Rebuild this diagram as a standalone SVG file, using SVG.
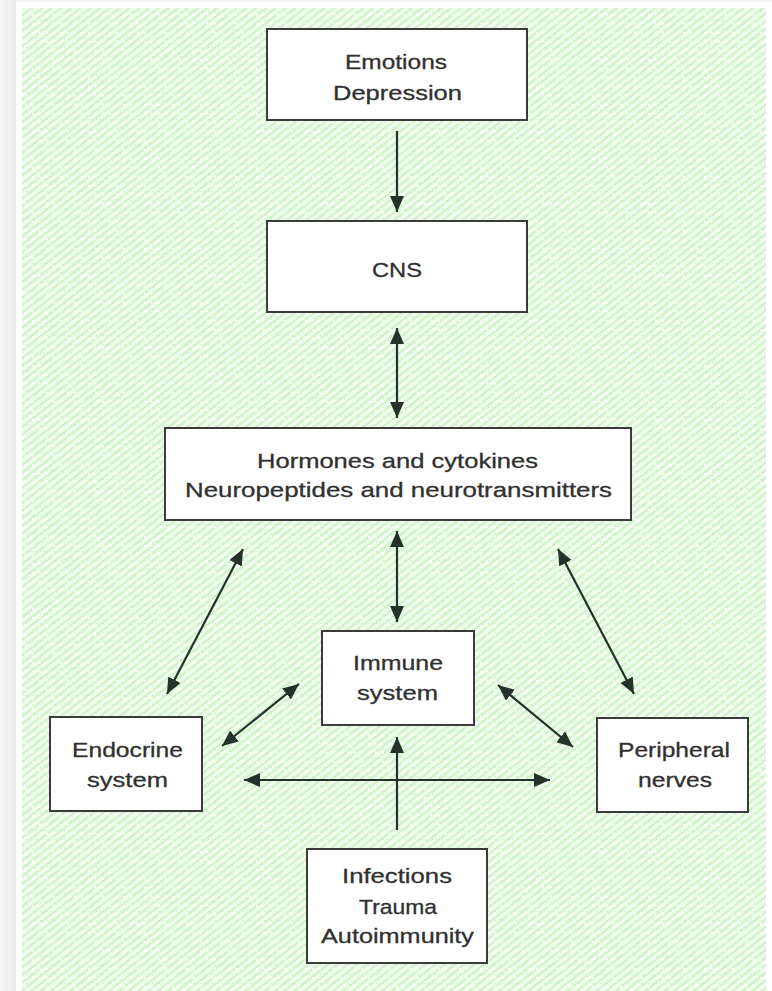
<svg xmlns="http://www.w3.org/2000/svg" width="772" height="991" viewBox="0 0 772 991">
  <defs>
    <linearGradient id="shadow" x1="0" y1="0" x2="1" y2="0">
      <stop offset="0" stop-color="#f6f6f7"/>
      <stop offset="1" stop-color="#e9e9eb"/>
    </linearGradient>
    <pattern id="hatch" width="6" height="6" patternUnits="userSpaceOnUse" patternTransform="rotate(-38)">
      <rect width="6" height="6" fill="#f4fcf1"/>
      <line x1="0" y1="2" x2="6" y2="2" stroke="#cdf3c4" stroke-width="2.4"/>
    </pattern>
    <pattern id="speck" width="7" height="9" patternUnits="userSpaceOnUse">
      <rect x="1" y="1" width="1.5" height="1.5" fill="#d4f4ee"/>
      <rect x="4" y="5" width="1.5" height="1.5" fill="#ffffff"/>
      <rect x="5" y="2" width="1" height="1" fill="#c2efb8"/>
    </pattern>
    <marker id="ah" viewBox="0 0 16 14" markerWidth="16" markerHeight="14" refX="16" refY="7" orient="auto-start-reverse" markerUnits="userSpaceOnUse">
      <path d="M0,0 L16,7 L0,14 z" fill="#25322a"/>
    </marker>
  </defs>
  <style>
    .box { fill: #ffffff; stroke: #3b3b3b; stroke-width: 2; }
    .lbl { font-family: "Liberation Sans", Arial, sans-serif; font-size: 21px; fill: #303030; stroke: #303030; stroke-width: 0.3; text-anchor: middle; }
    .one { stroke: #25322a; stroke-width: 2.2; fill: none; marker-end: url(#ah); }
    .two { stroke: #25322a; stroke-width: 2.2; fill: none; marker-start: url(#ah); marker-end: url(#ah); }
  </style>

  <rect x="0" y="0" width="772" height="991" fill="#f3f3f4"/>
  <rect x="0" y="0" width="16" height="991" fill="url(#shadow)"/>
  <rect x="16" y="2" width="756" height="989" fill="#ffffff"/>
  <rect x="22" y="8" width="744" height="983" fill="url(#hatch)"/>
  <rect x="22" y="8" width="744" height="983" fill="url(#speck)"/>

  <g id="connectors">
    <line class="one" x1="397" y1="131" x2="397" y2="212"/>
    <line class="two" x1="397" y1="328" x2="397" y2="418"/>
    <line class="two" x1="397" y1="531" x2="397" y2="622"/>
    <line class="two" x1="243" y1="549" x2="167" y2="694"/>
    <line class="two" x1="558" y1="549" x2="634" y2="694"/>
    <line class="two" x1="299" y1="684" x2="222" y2="746"/>
    <line class="two" x1="498" y1="685" x2="573" y2="747"/>
    <line class="two" x1="244" y1="780" x2="550" y2="780"/>
    <line class="one" x1="397" y1="830" x2="397" y2="737"/>
  </g>

  <g id="emotions">
    <rect class="box" x="267" y="29" width="260" height="91"/>
    <text class="lbl" x="396" y="69" textLength="102" lengthAdjust="spacingAndGlyphs">Emotions</text>
    <text class="lbl" x="397.5" y="100" textLength="129" lengthAdjust="spacingAndGlyphs">Depression</text>
  </g>
  <g id="cns">
    <rect class="box" x="267" y="221" width="260" height="91"/>
    <text class="lbl" x="397" y="277" textLength="50" lengthAdjust="spacingAndGlyphs">CNS</text>
  </g>
  <g id="hormones">
    <rect class="box" x="165" y="428" width="466" height="92"/>
    <text class="lbl" x="397.5" y="468" textLength="281" lengthAdjust="spacingAndGlyphs">Hormones and cytokines</text>
    <text class="lbl" x="398.5" y="497" textLength="427" lengthAdjust="spacingAndGlyphs">Neuropeptides and neurotransmitters</text>
  </g>
  <g id="immune">
    <rect class="box" x="322" y="631" width="152" height="94"/>
    <text class="lbl" x="398" y="670" textLength="90" lengthAdjust="spacingAndGlyphs">Immune</text>
    <text class="lbl" x="397.5" y="700" textLength="81" lengthAdjust="spacingAndGlyphs">system</text>
  </g>
  <g id="endocrine">
    <rect class="box" x="50" y="717" width="152" height="94"/>
    <text class="lbl" x="127.5" y="757" textLength="111" lengthAdjust="spacingAndGlyphs">Endocrine</text>
    <text class="lbl" x="127.5" y="787" textLength="81" lengthAdjust="spacingAndGlyphs">system</text>
  </g>
  <g id="peripheral">
    <rect class="box" x="597" y="718" width="151" height="94"/>
    <text class="lbl" x="674" y="757" textLength="112" lengthAdjust="spacingAndGlyphs">Peripheral</text>
    <text class="lbl" x="675" y="787" textLength="74" lengthAdjust="spacingAndGlyphs">nerves</text>
  </g>
  <g id="infections">
    <rect class="box" x="307" y="849" width="180" height="114"/>
    <text class="lbl" x="397" y="883" textLength="110" lengthAdjust="spacingAndGlyphs">Infections</text>
    <text class="lbl" x="398" y="914" textLength="78" lengthAdjust="spacingAndGlyphs">Trauma</text>
    <text class="lbl" x="397.5" y="943" textLength="153" lengthAdjust="spacingAndGlyphs">Autoimmunity</text>
  </g>
</svg>
